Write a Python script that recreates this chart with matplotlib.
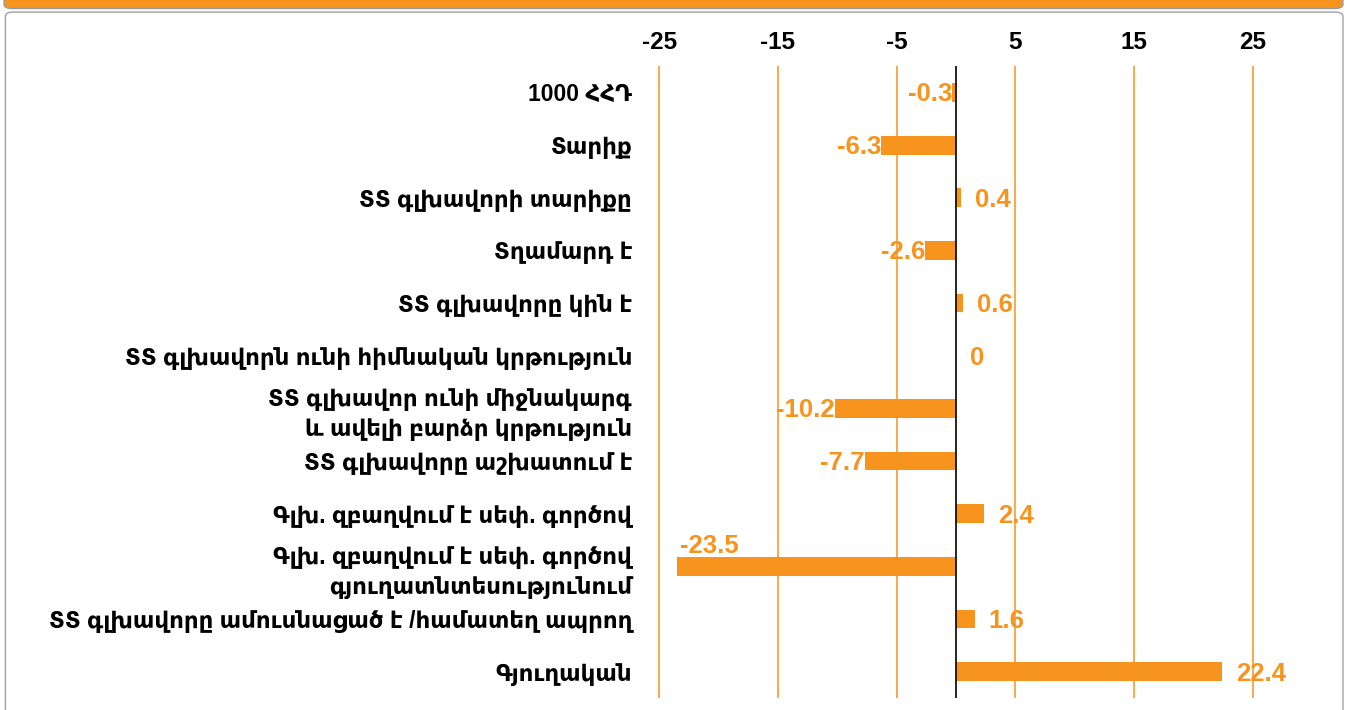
import matplotlib
matplotlib.use("Agg")
import matplotlib.pyplot as plt
from matplotlib.patches import FancyBboxPatch

categories = [
    "1000 ՀՀԴ",
    "Տարիք",
    "ՏՏ գլխավորի տարիքը",
    "Տղամարդ է",
    "ՏՏ գլխավորը կին է",
    "ՏՏ գլխավորն ունի հիմնական կրթություն",
    "ՏՏ գլխավոր ունի միջնակարգ\nև ավելի բարձր կրթություն",
    "ՏՏ գլխավորը աշխատում է",
    "Գլխ. զբաղվում է սեփ. գործով",
    "Գլխ. զբաղվում է սեփ. գործով\nգյուղատնտեսությունում",
    "ՏՏ գլխավորը ամուսնացած է /համատեղ ապրող",
    "Գյուղական",
]
values = [-0.3, -6.3, 0.4, -2.6, 0.6, 0, -10.2, -7.7, 2.4, -23.5, 1.6, 22.4]
xticks = [-25, -15, -5, 5, 15, 25]

ORANGE = "#F7941D"
GRID = "#F9A94B"
FAM = ["Liberation Sans", "DejaVu Sans"]

plt.rcParams["font.family"] = FAM
plt.rcParams["font.weight"] = "bold"

fig = plt.figure(figsize=(13.47, 7.10), dpi=100)

# frame decorations
fig.patches.append(FancyBboxPatch((0.003, 0.988), 0.994, 0.05,
                                  boxstyle="round,pad=0,rounding_size=0.006",
                                  transform=fig.transFigure, facecolor=ORANGE,
                                  edgecolor="#9a9a9a", linewidth=1.0, zorder=-2))
fig.patches.append(FancyBboxPatch((0.004, -0.05), 0.993, 1.033,
                                  boxstyle="round,pad=0,rounding_size=0.006",
                                  transform=fig.transFigure, facecolor="white",
                                  edgecolor="#a0a0a0", linewidth=1.0, zorder=-2))

ax = fig.add_axes([0.4806, 0.0169, 0.4582, 0.8901])
ax.set_facecolor("none")
y = list(range(len(categories)))
ax.barh(y, values, height=0.36, color=ORANGE, zorder=3)
ax.axvline(0, color="black", linewidth=1.2, zorder=4)

ax.set_xlim(-26, 26)
ax.set_ylim(len(categories) - 0.5, -0.5)
ax.set_xticks(xticks)
ax.set_xticklabels([str(t) for t in xticks])
ax.xaxis.tick_top()
ax.tick_params(axis="x", length=0, pad=9, labelsize=17.5)
ax.set_yticks(y)
ax.set_yticklabels(categories, fontsize=16.5, ha="right", linespacing=1.38)
ax.tick_params(axis="y", length=0, pad=11)
ax.grid(axis="x", color=GRID, linewidth=1.4, zorder=0)
for s in ax.spines.values():
    s.set_visible(False)

for yi, v in zip(y, values):
    lab = f"{v:g}"
    if v == -23.5:
        ax.annotate(lab, (v, yi), xytext=(2, 6), textcoords="offset points",
                    ha="left", va="bottom", color=ORANGE, fontsize=18.5,
                    fontweight="bold", zorder=5)
    elif v < 0:
        ax.annotate(lab, (v, yi), xytext=(0, -1.5), textcoords="offset points",
                    ha="right", va="center", color=ORANGE, fontsize=18.5,
                    fontweight="bold", zorder=5)
    else:
        ax.annotate(lab, (v, yi), xytext=(10, -1.5), textcoords="offset points",
                    ha="left", va="center", color=ORANGE, fontsize=18.5,
                    fontweight="bold", zorder=5)

fig.savefig("out.png", dpi=100)
